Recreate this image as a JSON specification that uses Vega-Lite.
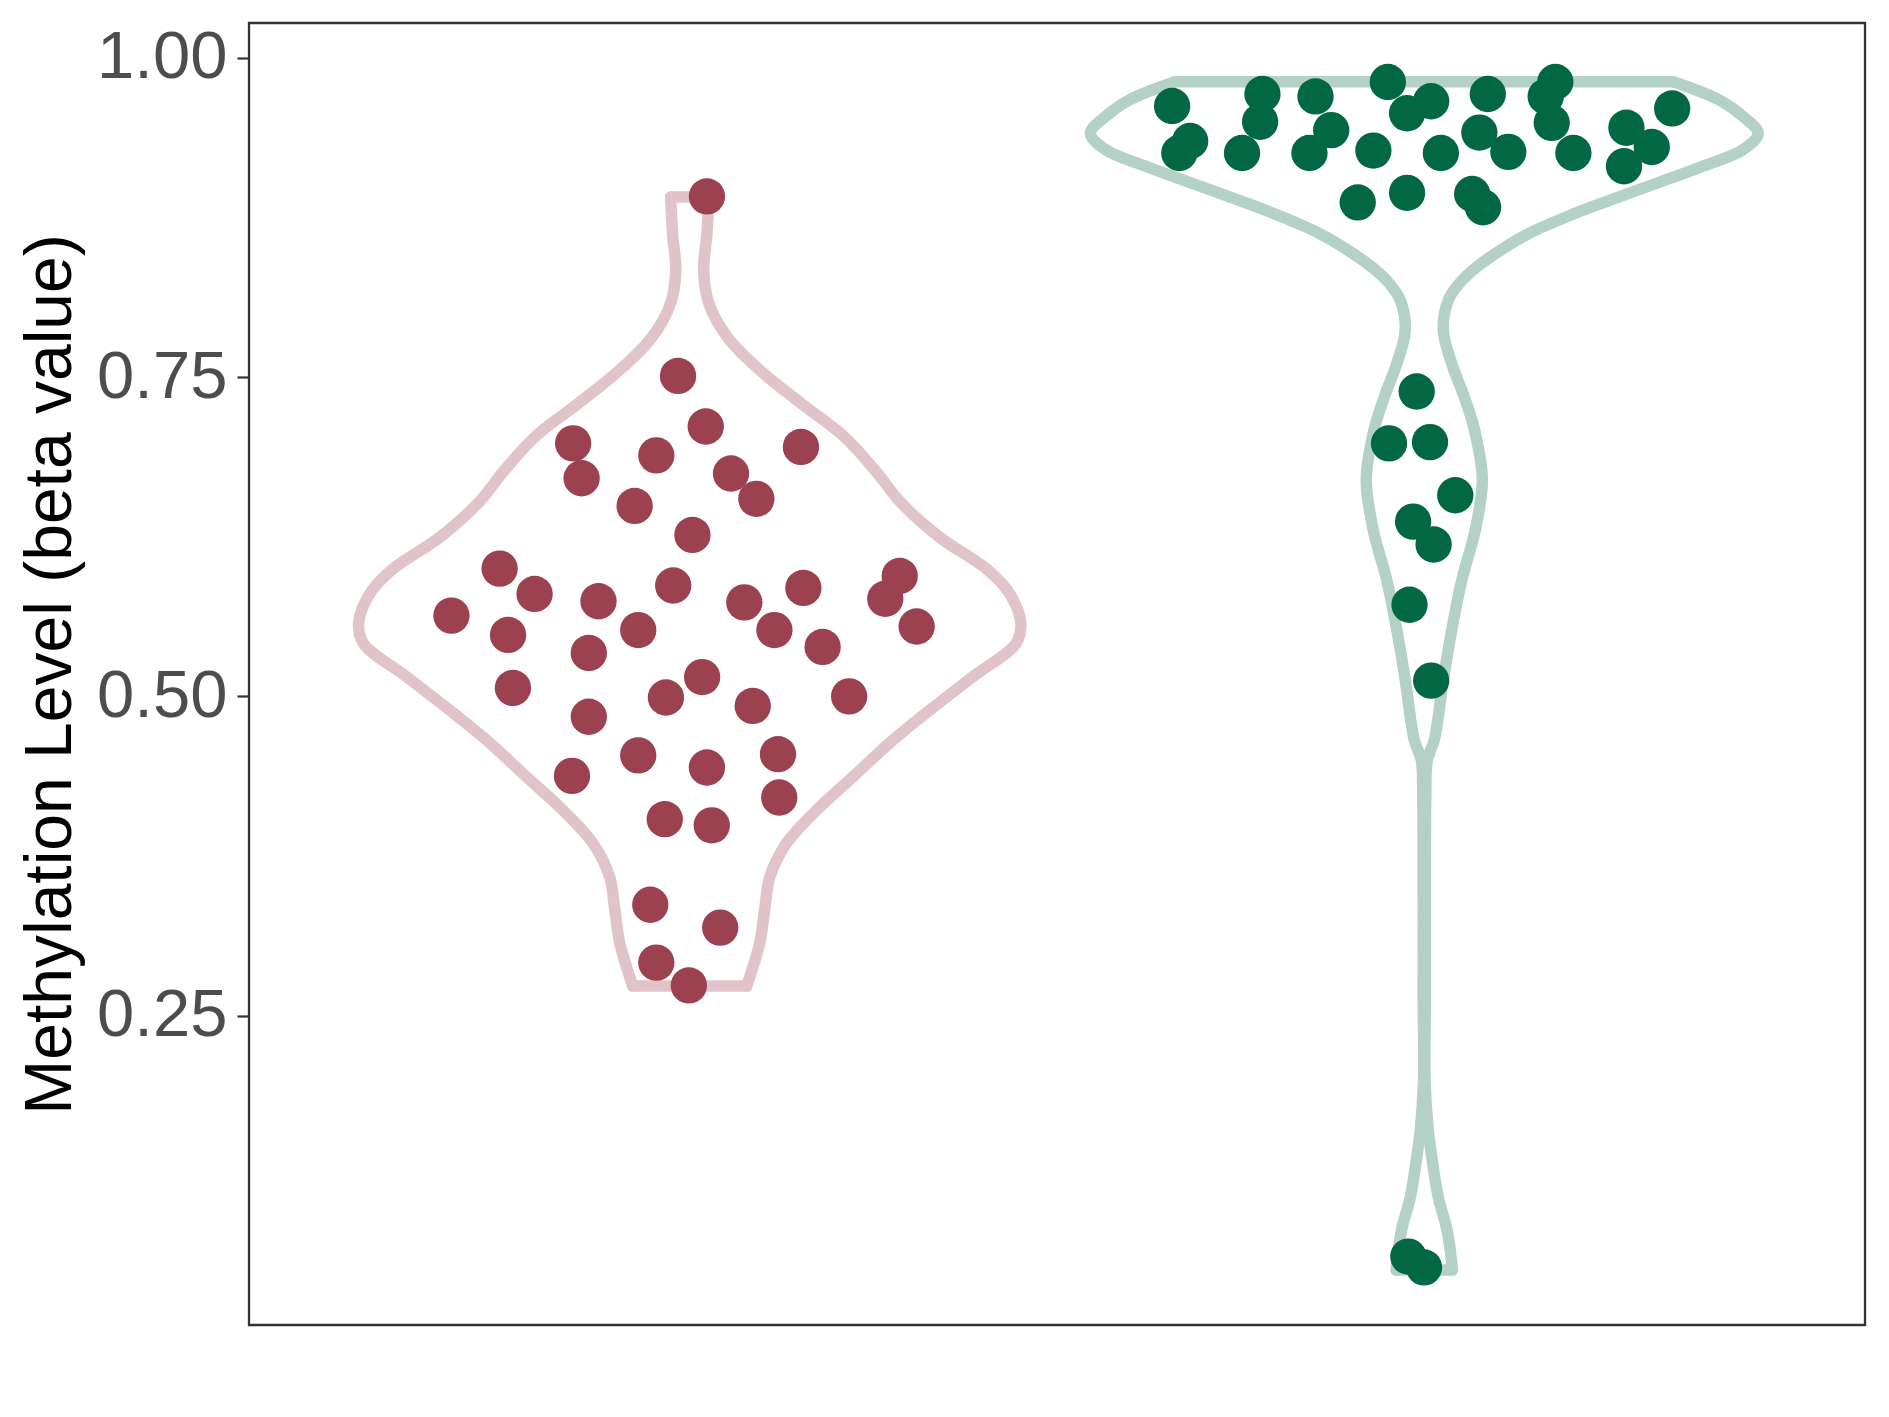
{
  "$schema": "https://vega.github.io/schema/vega-lite/v6.json",
  "width": 1616,
  "height": 1302,
  "autosize": {"type": "none"},
  "padding": {"left": 249, "top": 23, "right": 24, "bottom": 92},
  "background": "white",
  "config": {
    "view": {"stroke": "#333333", "strokeWidth": 2.3},
    "font": "Liberation Sans"
  },
  "datasets": {
    "violin": [
      {"group": "A", "side": "L", "y": 0.891, "x": 0.9741},
      {"group": "A", "side": "L", "y": 0.873, "x": 0.9755},
      {"group": "A", "side": "L", "y": 0.860, "x": 0.9769},
      {"group": "A", "side": "L", "y": 0.834, "x": 0.981},
      {"group": "A", "side": "L", "y": 0.808, "x": 0.9741},
      {"group": "A", "side": "L", "y": 0.781, "x": 0.9483},
      {"group": "A", "side": "L", "y": 0.7555, "x": 0.9047},
      {"group": "A", "side": "L", "y": 0.7297, "x": 0.849},
      {"group": "A", "side": "L", "y": 0.703, "x": 0.789},
      {"group": "A", "side": "L", "y": 0.6772, "x": 0.748},
      {"group": "A", "side": "L", "y": 0.6514, "x": 0.712},
      {"group": "A", "side": "L", "y": 0.6247, "x": 0.66},
      {"group": "A", "side": "L", "y": 0.5989, "x": 0.594},
      {"group": "A", "side": "L", "y": 0.5809, "x": 0.565},
      {"group": "A", "side": "L", "y": 0.5574, "x": 0.5493},
      {"group": "A", "side": "L", "y": 0.5417, "x": 0.5555},
      {"group": "A", "side": "L", "y": 0.5151, "x": 0.615},
      {"group": "A", "side": "L", "y": 0.4893, "x": 0.673},
      {"group": "A", "side": "L", "y": 0.4634, "x": 0.728},
      {"group": "A", "side": "L", "y": 0.4368, "x": 0.778},
      {"group": "A", "side": "L", "y": 0.411, "x": 0.827},
      {"group": "A", "side": "L", "y": 0.3851, "x": 0.868},
      {"group": "A", "side": "L", "y": 0.3585, "x": 0.891},
      {"group": "A", "side": "L", "y": 0.3327, "x": 0.898},
      {"group": "A", "side": "L", "y": 0.3068, "x": 0.9047},
      {"group": "A", "side": "L", "y": 0.2802, "x": 0.9183},
      {"group": "A", "side": "L", "y": 0.2731, "x": 0.9224},
      {"group": "A", "side": "R", "y": 0.891, "x": 1.0259},
      {"group": "A", "side": "R", "y": 0.873, "x": 1.0245},
      {"group": "A", "side": "R", "y": 0.860, "x": 1.0231},
      {"group": "A", "side": "R", "y": 0.834, "x": 1.019},
      {"group": "A", "side": "R", "y": 0.808, "x": 1.0259},
      {"group": "A", "side": "R", "y": 0.781, "x": 1.0517},
      {"group": "A", "side": "R", "y": 0.7555, "x": 1.0953},
      {"group": "A", "side": "R", "y": 0.7297, "x": 1.151},
      {"group": "A", "side": "R", "y": 0.703, "x": 1.211},
      {"group": "A", "side": "R", "y": 0.6772, "x": 1.252},
      {"group": "A", "side": "R", "y": 0.6514, "x": 1.288},
      {"group": "A", "side": "R", "y": 0.6247, "x": 1.34},
      {"group": "A", "side": "R", "y": 0.5989, "x": 1.406},
      {"group": "A", "side": "R", "y": 0.5809, "x": 1.435},
      {"group": "A", "side": "R", "y": 0.5574, "x": 1.4507},
      {"group": "A", "side": "R", "y": 0.5417, "x": 1.4445},
      {"group": "A", "side": "R", "y": 0.5151, "x": 1.385},
      {"group": "A", "side": "R", "y": 0.4893, "x": 1.327},
      {"group": "A", "side": "R", "y": 0.4634, "x": 1.272},
      {"group": "A", "side": "R", "y": 0.4368, "x": 1.222},
      {"group": "A", "side": "R", "y": 0.411, "x": 1.173},
      {"group": "A", "side": "R", "y": 0.3851, "x": 1.132},
      {"group": "A", "side": "R", "y": 0.3585, "x": 1.109},
      {"group": "A", "side": "R", "y": 0.3327, "x": 1.102},
      {"group": "A", "side": "R", "y": 0.3068, "x": 1.0953},
      {"group": "A", "side": "R", "y": 0.2802, "x": 1.0817},
      {"group": "A", "side": "R", "y": 0.2731, "x": 1.0776},
      {"group": "B", "side": "L", "y": 0.9813, "x": 1.661},
      {"group": "B", "side": "L", "y": 0.967, "x": 1.5984},
      {"group": "B", "side": "L", "y": 0.9539, "x": 1.5657},
      {"group": "B", "side": "L", "y": 0.9409, "x": 1.5455},
      {"group": "B", "side": "L", "y": 0.9278, "x": 1.567},
      {"group": "B", "side": "L", "y": 0.9147, "x": 1.623},
      {"group": "B", "side": "L", "y": 0.9017, "x": 1.6841},
      {"group": "B", "side": "L", "y": 0.8886, "x": 1.7468},
      {"group": "B", "side": "L", "y": 0.8756, "x": 1.806},
      {"group": "B", "side": "L", "y": 0.8626, "x": 1.857},
      {"group": "B", "side": "L", "y": 0.8495, "x": 1.8958},
      {"group": "B", "side": "L", "y": 0.8364, "x": 1.9282},
      {"group": "B", "side": "L", "y": 0.8234, "x": 1.9523},
      {"group": "B", "side": "L", "y": 0.8103, "x": 1.9673},
      {"group": "B", "side": "L", "y": 0.7868, "x": 1.9741},
      {"group": "B", "side": "L", "y": 0.761, "x": 1.9629},
      {"group": "B", "side": "L", "y": 0.7344, "x": 1.9455},
      {"group": "B", "side": "L", "y": 0.7085, "x": 1.9315},
      {"group": "B", "side": "L", "y": 0.6694, "x": 1.921},
      {"group": "B", "side": "L", "y": 0.6302, "x": 1.9306},
      {"group": "B", "side": "L", "y": 0.5911, "x": 1.9489},
      {"group": "B", "side": "L", "y": 0.5519, "x": 1.9626},
      {"group": "B", "side": "L", "y": 0.5128, "x": 1.9741},
      {"group": "B", "side": "L", "y": 0.4658, "x": 1.9864},
      {"group": "B", "side": "L", "y": 0.4501, "x": 1.9959},
      {"group": "B", "side": "L", "y": 0.4188, "x": 1.998},
      {"group": "B", "side": "L", "y": 0.3405, "x": 1.9986},
      {"group": "B", "side": "L", "y": 0.2622, "x": 1.9986},
      {"group": "B", "side": "L", "y": 0.1995, "x": 1.999},
      {"group": "B", "side": "L", "y": 0.1604, "x": 1.9946},
      {"group": "B", "side": "L", "y": 0.1392, "x": 1.9898},
      {"group": "B", "side": "L", "y": 0.1079, "x": 1.981},
      {"group": "B", "side": "L", "y": 0.0821, "x": 1.9691},
      {"group": "B", "side": "L", "y": 0.0562, "x": 1.9626},
      {"group": "B", "side": "L", "y": 0.0507, "x": 1.9619},
      {"group": "B", "side": "R", "y": 0.9813, "x": 2.339},
      {"group": "B", "side": "R", "y": 0.967, "x": 2.4016},
      {"group": "B", "side": "R", "y": 0.9539, "x": 2.4343},
      {"group": "B", "side": "R", "y": 0.9409, "x": 2.4545},
      {"group": "B", "side": "R", "y": 0.9278, "x": 2.433},
      {"group": "B", "side": "R", "y": 0.9147, "x": 2.377},
      {"group": "B", "side": "R", "y": 0.9017, "x": 2.3159},
      {"group": "B", "side": "R", "y": 0.8886, "x": 2.2532},
      {"group": "B", "side": "R", "y": 0.8756, "x": 2.194},
      {"group": "B", "side": "R", "y": 0.8626, "x": 2.143},
      {"group": "B", "side": "R", "y": 0.8495, "x": 2.1042},
      {"group": "B", "side": "R", "y": 0.8364, "x": 2.0718},
      {"group": "B", "side": "R", "y": 0.8234, "x": 2.0477},
      {"group": "B", "side": "R", "y": 0.8103, "x": 2.0327},
      {"group": "B", "side": "R", "y": 0.7868, "x": 2.0259},
      {"group": "B", "side": "R", "y": 0.761, "x": 2.0371},
      {"group": "B", "side": "R", "y": 0.7344, "x": 2.0545},
      {"group": "B", "side": "R", "y": 0.7085, "x": 2.0685},
      {"group": "B", "side": "R", "y": 0.6694, "x": 2.079},
      {"group": "B", "side": "R", "y": 0.6302, "x": 2.0694},
      {"group": "B", "side": "R", "y": 0.5911, "x": 2.0511},
      {"group": "B", "side": "R", "y": 0.5519, "x": 2.0374},
      {"group": "B", "side": "R", "y": 0.5128, "x": 2.0259},
      {"group": "B", "side": "R", "y": 0.4658, "x": 2.0136},
      {"group": "B", "side": "R", "y": 0.4501, "x": 2.0041},
      {"group": "B", "side": "R", "y": 0.4188, "x": 2.002},
      {"group": "B", "side": "R", "y": 0.3405, "x": 2.0014},
      {"group": "B", "side": "R", "y": 0.2622, "x": 2.0014},
      {"group": "B", "side": "R", "y": 0.1995, "x": 2.001},
      {"group": "B", "side": "R", "y": 0.1604, "x": 2.0054},
      {"group": "B", "side": "R", "y": 0.1392, "x": 2.0102},
      {"group": "B", "side": "R", "y": 0.1079, "x": 2.019},
      {"group": "B", "side": "R", "y": 0.0821, "x": 2.0309},
      {"group": "B", "side": "R", "y": 0.0562, "x": 2.0374},
      {"group": "B", "side": "R", "y": 0.0507, "x": 2.0381}
    ],
    "caps": [
      {"group": "A", "y": 0.891, "x1": 0.9741, "x2": 1.0259},
      {"group": "A", "y": 0.2731, "x1": 0.9224, "x2": 1.0776},
      {"group": "B", "y": 0.9813, "x1": 1.661, "x2": 2.339},
      {"group": "B", "y": 0.0507, "x1": 1.9619, "x2": 2.0381}
    ],
    "points": [
      {"group": "A", "x": 1.0234, "y": 0.8915},
      {"group": "A", "x": 0.9841, "y": 0.7509},
      {"group": "A", "x": 1.0218, "y": 0.7113},
      {"group": "A", "x": 0.8413, "y": 0.6981},
      {"group": "A", "x": 0.9545, "y": 0.6887},
      {"group": "A", "x": 1.1514, "y": 0.6953},
      {"group": "A", "x": 0.8528, "y": 0.6708},
      {"group": "A", "x": 1.0562, "y": 0.6745},
      {"group": "A", "x": 1.0907, "y": 0.6547},
      {"group": "A", "x": 0.925, "y": 0.6491},
      {"group": "A", "x": 1.0037, "y": 0.6264},
      {"group": "A", "x": 0.7412, "y": 0.6},
      {"group": "A", "x": 0.7888, "y": 0.5802},
      {"group": "A", "x": 0.9775, "y": 0.5868},
      {"group": "A", "x": 1.2859, "y": 0.5943},
      {"group": "A", "x": 1.2662, "y": 0.5764},
      {"group": "A", "x": 0.8758, "y": 0.5745},
      {"group": "A", "x": 1.0743, "y": 0.5736},
      {"group": "A", "x": 1.1547, "y": 0.5849},
      {"group": "A", "x": 0.6756, "y": 0.5632},
      {"group": "A", "x": 0.7527, "y": 0.5481},
      {"group": "A", "x": 0.9299, "y": 0.5519},
      {"group": "A", "x": 1.1153, "y": 0.5519},
      {"group": "A", "x": 1.3089, "y": 0.5547},
      {"group": "A", "x": 0.8626, "y": 0.534},
      {"group": "A", "x": 1.1809, "y": 0.5387},
      {"group": "A", "x": 1.0169, "y": 0.5151},
      {"group": "A", "x": 0.7593, "y": 0.5066},
      {"group": "A", "x": 0.9676, "y": 0.4991},
      {"group": "A", "x": 1.217, "y": 0.5},
      {"group": "A", "x": 1.0858, "y": 0.4925},
      {"group": "A", "x": 0.8626, "y": 0.484},
      {"group": "A", "x": 0.9299, "y": 0.4538},
      {"group": "A", "x": 1.1202, "y": 0.4547},
      {"group": "A", "x": 1.0234, "y": 0.4443},
      {"group": "A", "x": 0.8397, "y": 0.4377},
      {"group": "A", "x": 1.1219, "y": 0.4208},
      {"group": "A", "x": 0.966, "y": 0.4038},
      {"group": "A", "x": 1.03, "y": 0.399},
      {"group": "A", "x": 0.9463, "y": 0.3368},
      {"group": "A", "x": 1.0415, "y": 0.3189},
      {"group": "A", "x": 0.9545, "y": 0.2915},
      {"group": "A", "x": 0.9988, "y": 0.2736},
      {"group": "B", "x": 1.6567, "y": 0.9623},
      {"group": "B", "x": 1.6813, "y": 0.9349},
      {"group": "B", "x": 1.6665, "y": 0.9255},
      {"group": "B", "x": 1.7797, "y": 0.9717},
      {"group": "B", "x": 1.7765, "y": 0.95},
      {"group": "B", "x": 1.7519, "y": 0.9255},
      {"group": "B", "x": 1.8519, "y": 0.9698},
      {"group": "B", "x": 1.8733, "y": 0.9434},
      {"group": "B", "x": 1.8437, "y": 0.9255},
      {"group": "B", "x": 1.9504, "y": 0.9811},
      {"group": "B", "x": 1.9766, "y": 0.9566},
      {"group": "B", "x": 2.0094, "y": 0.966},
      {"group": "B", "x": 1.9307, "y": 0.9274},
      {"group": "B", "x": 2.0226, "y": 0.9255},
      {"group": "B", "x": 1.9094, "y": 0.8868},
      {"group": "B", "x": 1.9766, "y": 0.8943},
      {"group": "B", "x": 2.0865, "y": 0.9717},
      {"group": "B", "x": 2.075, "y": 0.9415},
      {"group": "B", "x": 2.1144, "y": 0.9264},
      {"group": "B", "x": 2.0652, "y": 0.8934},
      {"group": "B", "x": 2.08, "y": 0.883},
      {"group": "B", "x": 2.1784, "y": 0.9811},
      {"group": "B", "x": 2.1653, "y": 0.9698},
      {"group": "B", "x": 2.1735, "y": 0.9491},
      {"group": "B", "x": 2.203, "y": 0.9255},
      {"group": "B", "x": 2.2752, "y": 0.9453},
      {"group": "B", "x": 2.3097, "y": 0.9302},
      {"group": "B", "x": 2.2719, "y": 0.9151},
      {"group": "B", "x": 2.3375, "y": 0.9604},
      {"group": "B", "x": 1.9897, "y": 0.7387},
      {"group": "B", "x": 1.952, "y": 0.6981},
      {"group": "B", "x": 2.0078, "y": 0.6991},
      {"group": "B", "x": 2.0422, "y": 0.6575},
      {"group": "B", "x": 1.9848, "y": 0.6368},
      {"group": "B", "x": 2.0127, "y": 0.6189},
      {"group": "B", "x": 1.9799, "y": 0.5717},
      {"group": "B", "x": 2.0094, "y": 0.5123},
      {"group": "B", "x": 1.9783, "y": 0.0613},
      {"group": "B", "x": 1.9996, "y": 0.0528}
    ]
  },
  "layer": [
    {
      "data": {"name": "violin"},
      "mark": {"type": "line", "strokeWidth": 11.5, "strokeJoin": "round", "strokeCap": "round", "interpolate": "catmull-rom"},
      "encoding": {
        "x": {"field": "x", "type": "quantitative", "scale": {"domain": [0.4, 2.6], "nice": false, "zero": false}, "axis": null},
        "y": {"field": "y", "type": "quantitative", "scale": {"domain": [0.0077, 1.0273], "nice": false, "zero": false},
          "axis": {"values": [0.25, 0.5, 0.75, 1.0], "format": ".2f", "labelFontSize": 67, "labelColor": "#4D4D4D", "labelFont": "Liberation Sans", "labelPadding": 10, "labelFlush": false, "labelBound": false, "labelOverlap": false, "tickSize": 12, "tickWidth": 2.2, "tickColor": "#333333", "domain": false, "grid": false, "title": "Methylation Level (beta value)", "titleFontSize": 66, "titleFont": "Liberation Sans", "titleFontWeight": "normal", "titleColor": "#000000", "titlePadding": 12}},
        "order": {"field": "y", "type": "quantitative"},
        "detail": {"field": "side", "type": "nominal"},
        "color": {"field": "group", "type": "nominal", "scale": {"domain": ["A", "B"], "range": ["#E0C4C9", "#B4D1C6"]}, "legend": null}
      }
    },
    {
      "data": {"name": "caps"},
      "mark": {"type": "rule", "strokeWidth": 11.5, "strokeCap": "round"},
      "encoding": {
        "x": {"field": "x1", "type": "quantitative"},
        "x2": {"field": "x2"},
        "y": {"field": "y", "type": "quantitative"},
        "color": {"field": "group", "type": "nominal", "scale": {"domain": ["A", "B"], "range": ["#E0C4C9", "#B4D1C6"]}, "legend": null}
      }
    },
    {
      "data": {"name": "points"},
      "mark": {"type": "circle", "size": 1320, "opacity": 1},
      "encoding": {
        "x": {"field": "x", "type": "quantitative"},
        "y": {"field": "y", "type": "quantitative"},
        "color": {"field": "group", "type": "nominal", "scale": {"domain": ["A", "B"], "range": ["#9B4150", "#026844"]}, "legend": null}
      }
    }
  ],
  "resolve": {"scale": {"color": "independent"}}
}
